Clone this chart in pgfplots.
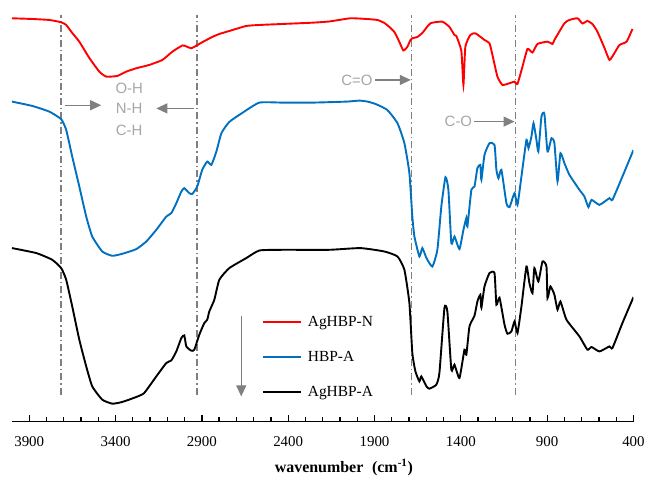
\documentclass[border=0pt]{standalone}
\usepackage{fontspec}
\setmainfont{Liberation Serif}
\newfontfamily\arial{Liberation Sans}
\usepackage{pgfplots}
\pgfplotsset{compat=1.18}
\usetikzlibrary{arrows.meta}

\definecolor{ftred}{HTML}{FF0000}
\definecolor{ftblue}{HTML}{0070C0}
\definecolor{annot}{HTML}{A6A6A6}
\definecolor{arrgray}{HTML}{808080}
\definecolor{vline}{HTML}{7F7F7F}

\tikzset{
  garrow/.style={draw=arrgray, line width=1.2bp, -{Triangle[length=11bp, width=10bp]}},
  vmark/.style={draw=vline, line width=1.7bp, dash pattern=on 7bp off 3bp on 1.5bp off 3bp},
  annot/.style={font=\arial\fontsize{15}{18}\selectfont, text=annot, inner sep=0pt},
  curve/.style={line width=1.9bp, smooth, tension=0.3},
}

\begin{document}
\begin{tikzpicture}
\begin{axis}[
  scale only axis, width=622bp, height=422bp,
  xmin=400, xmax=4000, x dir=reverse,
  ymin=53, ymax=475,
  axis x line=bottom, axis y line=none,
  x axis line style={-, line width=1.4bp},
  xtick={3900,3400,2900,2400,1900,1400,900,400},
  minor x tick num=4,
  tick align=inside,
  major tick length=7bp, minor tick length=5bp,
  every tick/.style={line width=1.3bp, black},
  xticklabel style={font=\fontsize{15}{18}\selectfont, yshift=-11bp},
  /pgf/number format/assume math mode=true,
  /pgf/number format/set thousands separator={},
  xlabel={\textbf{wavenumber\hspace{0.55em}(cm\textsuperscript{-1})}},
  xlabel style={font=\fontsize{16}{19}\selectfont, at={(axis description cs:0.534,-0.109)}, anchor=center},
  legend style={draw=none, fill=none, at={(axis description cs:0.402,0.252)}, anchor=north west,
    font=\fontsize{15.5}{18}\selectfont, row sep=21bp, inner sep=0pt,
    nodes={inner sep=1bp},
    /tikz/every odd column/.append style={column sep=5bp}},
  legend cell align=left,
  legend image code/.code={\draw[#1] (0bp,0bp) -- (38bp,0bp);},
]

% vertical dash-dot guide lines
\addplot[vmark, forget plot] coordinates {(3715,80) (3715,460)};
\addplot[vmark, forget plot] coordinates {(2927,80) (2927,460)};
\addplot[vmark, forget plot] coordinates {(1685,80) (1685,460)};
\addplot[vmark, forget plot] coordinates {(1084,80) (1084,460)};

% AgHBP-N
\addplot[ftred, curve] coordinates {
(4000,456.7) (3883,456) (3784,455) (3715,452.7) (3686,450) (3651,442) (3610,433.3)
(3552,417) (3494,403.3) (3454,398.3) (3390,399) (3338,403.3) (3280,406.7) (3205,410)
(3129,415) (3071,423.3) (3013,429.5) (2990,428.5) (2961,426.7) (2932,429.3) (2898,432.7)
(2840,438) (2799,441) (2741,444) (2643,449) (2567,450) (2434,451) (2260,452.3) (2162,453.5)
(2040,456.7) (1947,456) (1883,455) (1843,452) (1814,448) (1785,443) (1756,433) (1733,424.5)
(1710,428) (1692,435) (1681,436.7) (1652,438) (1623,442) (1576,451.7) (1507,453.3)
(1466,448) (1437,440) (1426,439) (1397,424) (1385,390) (1374,428) (1345,440) (1316,441.7)
(1263,435) (1234,431.7) (1217,420) (1188,398.3) (1159,390) (1118,391.7) (1089,393.3)
(1072,391) (1043,408.3) (1014,426) (985,422.5) (956,431) (898,433.3) (869,431) (858,435)
(800,451.7) (771,455) (724,456.7) (696,451.5) (667,454) (638,451) (609,443.3) (568,427)
(539,415) (510,422) (481,430) (440,433.3) (406,446)
};
\addlegendentry{AgHBP-N}

% HBP-A
\addplot[ftblue, curve] coordinates {
(4000,373.3) (3883,369) (3784,363.3) (3715,355.7) (3686,345) (3651,318.3) (3610,288.3)
(3570,258.3) (3535,238.3) (3477,223.3) (3419,219) (3361,221) (3280,225.7) (3222,233.3)
(3164,245) (3106,258.3) (3077,261.7) (3048,271.7) (3019,283.3) (3002,286.7) (2973,281.7)
(2955,281) (2927,288.3) (2898,305) (2869,313.3) (2845,310) (2816,323.3) (2787,341.7)
(2741,353) (2666,362) (2567,372.3) (2434,372.3) (2260,372.3) (2063,373.3) (1988,374.3)
(1941,373.3) (1895,371) (1826,365) (1767,351.7) (1727,331.7) (1698,301.7) (1681,258.3)
(1669,238.3) (1640,218.3) (1623,226.7) (1599,216.7) (1565,208.3) (1536,225) (1513,268.3)
(1489,297.7) (1472,285) (1455,231.7) (1437,238.3) (1408,225.7) (1385,245) (1368,256.7)
(1362,248.3) (1339,285) (1321,288.3) (1304,306.7) (1287,310) (1281,295) (1263,320)
(1234,331.7) (1205,330) (1194,305) (1182,296.7) (1165,305) (1136,271.7) (1118,267.7)
(1089,281.7) (1072,270) (1049,298.3) (1020,335) (1008,326.7) (991,338.3) (979,351.7)
(962,335) (951,323.3) (933,358.3) (916,361) (898,323.3) (875,336.7) (858,331.7) (840,293.3)
(823,321.7) (800,311.7) (771,300) (713,285) (684,278.3) (661,267.7) (643,275) (597,270)
(539,276.7) (522,275) (464,298.3) (400,325)
};
\addlegendentry{HBP-A}

% AgHBP-A
\addplot[black, curve] coordinates {
(4000,226.7) (3859,221.7) (3767,215) (3715,206.7) (3686,195) (3651,168.3) (3610,135)
(3570,108.3) (3535,88.3) (3477,75) (3419,71) (3361,72.7) (3280,77.7) (3234,81.7)
(3164,98.3) (3106,111.7) (3077,114.3) (3048,123.3) (3019,136.7) (3002,139.3) (2990,128.3)
(2961,124) (2944,125) (2915,140) (2886,151.7) (2869,155) (2857,163.3) (2828,175) (2799,195)
(2741,206.7) (2643,216.7) (2567,224.3) (2434,225) (2162,225) (1982,226.7) (1843,223.3)
(1767,218.3) (1727,205) (1698,171.7) (1681,121.7) (1663,103.3) (1640,93.3) (1629,98.3)
(1599,88.3) (1582,86) (1542,90) (1524,102) (1495,166.7) (1478,163.3) (1455,105) (1437,110)
(1408,96.7) (1379,125) (1368,120) (1350,148.3) (1321,159) (1304,173.3) (1287,180)
(1281,167) (1263,188.3) (1234,201.7) (1205,201.7) (1194,170) (1176,177) (1147,150)
(1130,141) (1107,143.3) (1089,153.3) (1072,141.7) (1049,168.3) (1020,208.3) (1003,191.7)
(985,181.7) (974,206.7) (951,193.3) (927,213.3) (904,208.3) (898,176.7) (881,188.3)
(858,180) (840,165) (823,173.3) (788,155) (713,138.3) (667,125) (643,127.7) (597,123.3)
(539,128.3) (522,126.7) (464,151.7) (400,177.7)
};
\addlegendentry{AgHBP-A}

% annotations
\node[annot] at (axis cs:3321,387) {O-H};
\node[annot] at (axis cs:3321,367) {N-H};
\node[annot] at (axis cs:3321,345) {C-H};
\draw[garrow] (axis cs:3691,369.7) -- (axis cs:3483,369.7);
\draw[garrow] (axis cs:2944,366.5) -- (axis cs:3164,366.5);
\node[annot] at (axis cs:2002,395) {C=O};
\draw[garrow] (axis cs:1898,395) -- (axis cs:1690,395);
\node[annot] at (axis cs:1414,353.3) {C-O};
\draw[garrow] (axis cs:1321,353.3) -- (axis cs:1089,353.3);
\draw[garrow] (axis cs:2672,158.3) -- (axis cs:2672,78.3);
\end{axis}
\path ([shift={(-12bp,-53bp)}]current axis.south west) rectangle ([shift={(14bp,0bp)}]current axis.north east);
\end{tikzpicture}
\end{document}
